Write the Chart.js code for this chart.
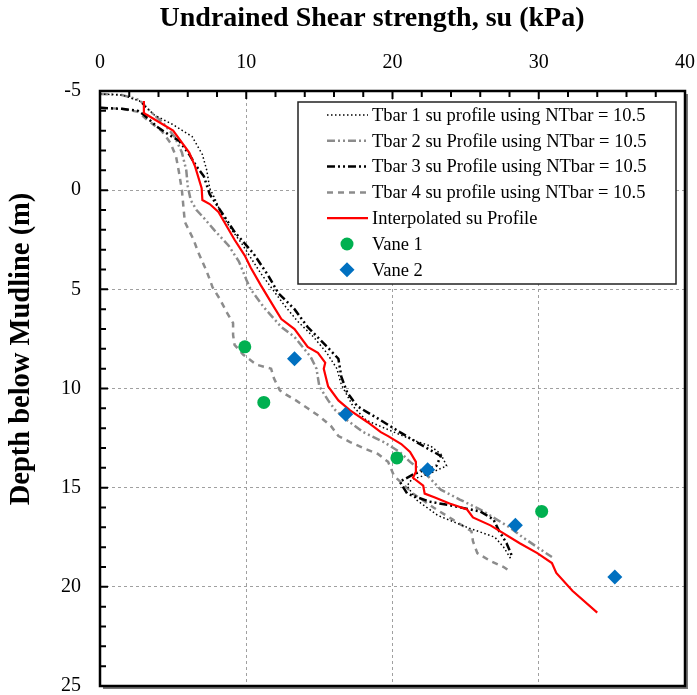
<!DOCTYPE html>
<html>
<head>
<meta charset="utf-8">
<script src="https://cdn.jsdelivr.net/npm/chart.js@4.4.1/dist/chart.umd.min.js"></script>
<style>
  html, body { margin: 0; padding: 0; background: #fff; }
  #wrap { width: 697px; height: 695px; }
</style>
</head>
<body>
<div id="wrap"><canvas id="suChart" width="697" height="695"></canvas></div>
<script>
// ---- data (su in kPa, depth in m) ----
const xTicks = [0, 10, 20, 30, 40];
const yTicks = [-5, 0, 5, 10, 15, 20, 25];

const tbar1Su = [0, 1.5, 2.7, 3.7, 5.0, 6.3, 7.0, 7.3, 7.5, 7.9, 8.3, 9.0, 9.7, 10.3, 11.0, 11.8, 12.6, 13.5, 14.6, 15.5, 16.2, 16.5, 17.3, 18.2, 20.1, 21.4, 22.6, 23.3, 23.7, 22.5, 21.3, 21.0, 21.6, 23.1, 25.1, 27.0, 27.6, 28.1];
const tbar1Depth = [-4.85, -4.8, -4.5, -3.8, -3.3, -2.7, -1.8, -1.0, -0.1, 0.5, 1.2, 2.0, 2.7, 3.4, 4.2, 5.0, 5.8, 6.6, 7.4, 8.2, 9.0, 9.8, 10.9, 11.6, 12.2, 12.6, 12.9, 13.3, 13.9, 14.3, 14.6, 14.9, 15.6, 16.4, 17.0, 17.5, 18.0, 18.6];

const tbar2Su = [0, 1.5, 2.7, 3.4, 4.3, 5.1, 5.6, 5.9, 6.0, 6.2, 6.6, 7.1, 7.8, 8.8, 9.5, 10.0, 10.3, 11.2, 12.4, 13.3, 14.4, 14.8, 15.0, 15.6, 16.1, 16.9, 18.0, 19.4, 20.5, 21.2, 22.4, 23.3, 24.6, 26.0, 28.0, 28.9, 29.9, 30.9];
const tbar2Depth = [-4.85, -4.8, -4.55, -4.0, -3.4, -2.7, -1.9, -1.0, -0.2, 0.5, 1.0, 1.4, 2.0, 2.8, 3.6, 4.5, 5.0, 5.9, 6.9, 7.4, 8.4, 9.0, 9.9, 10.6, 11.1, 11.6, 12.2, 12.7, 13.2, 13.7, 14.4, 15.1, 15.6, 16.1, 17.0, 17.5, 18.0, 18.5];

const tbar3Su = [0, 1.5, 2.6, 3.0, 3.9, 4.7, 5.4, 6.1, 6.6, 7.1, 7.5, 8.3, 9.2, 10.5, 11.5, 12.2, 13.3, 14.2, 15.4, 16.3, 16.5, 16.9, 17.6, 19.2, 20.5, 22.1, 23.3, 23.0, 21.5, 20.5, 21.0, 22.5, 24.0, 26.0, 26.9, 27.3, 27.8, 28.2];
const tbar3Depth = [-4.15, -4.1, -4.0, -3.8, -3.2, -2.8, -2.5, -1.8, -1.2, -0.7, 0.2, 1.1, 2.1, 3.2, 4.3, 5.2, 6.0, 6.9, 7.8, 8.5, 9.4, 10.2, 10.9, 11.6, 12.2, 12.9, 13.4, 13.9, 14.3, 14.7, 15.3, 15.7, 15.9, 16.2, 16.6, 17.2, 17.8, 18.5];

const tbar4Su = [0, 1.5, 2.6, 3.3, 4.2, 4.8, 5.2, 5.4, 5.6, 5.7, 5.8, 6.4, 6.7, 7.3, 7.7, 8.2, 8.7, 9.1, 9.1, 9.2, 9.8, 10.7, 11.7, 11.9, 12.3, 12.7, 13.4, 14.2, 15.0, 15.8, 16.3, 17.1, 18.0, 19.0, 19.7, 20.1, 21.4, 22.8, 24.1, 25.4, 25.5, 25.8, 26.7, 27.6, 28.0];
const tbar4Depth = [-4.15, -4.1, -3.95, -3.5, -3.0, -2.4, -1.7, -0.9, 0.0, 0.8, 1.6, 2.5, 3.1, 4.1, 4.9, 5.5, 6.2, 6.7, 7.3, 7.8, 8.3, 8.8, 9.0, 9.5, 10.1, 10.3, 10.6, 11.0, 11.4, 11.9, 12.4, 12.7, 13.0, 13.3, 13.7, 14.4, 15.3, 16.0, 16.6, 17.2, 17.7, 18.3, 18.7, 19.0, 19.2];

const interpSu = [3.0, 3.0, 3.2, 5.0, 6.1, 6.5, 6.95, 7.0, 7.5, 8.1, 9.2, 9.9, 10.3, 11.0, 11.9, 12.4, 13.3, 14.2, 14.9, 15.4, 15.3, 15.6, 16.3, 17.1, 18.3, 19.2, 19.7, 20.6, 21.2, 21.6, 21.6, 21.4, 22.1, 22.2, 22.9, 23.9, 25.1, 25.5, 26.7, 28.7, 29.9, 30.9, 31.2, 32.3, 34.0];
const interpDepth = [-4.5, -3.9, -3.8, -3.0, -1.9, -1.2, -0.1, 0.5, 0.7, 1.1, 2.5, 3.3, 3.9, 4.8, 5.9, 6.5, 7.0, 7.9, 8.2, 8.7, 9.0, 9.9, 10.6, 11.1, 11.7, 12.2, 12.4, 12.8, 13.2, 13.7, 14.2, 14.5, 14.9, 15.3, 15.5, 15.8, 16.1, 16.5, 16.9, 17.8, 18.3, 18.8, 19.3, 20.2, 21.3];

const vane1Su = [9.9, 11.2, 20.3, 30.2];
const vane1Depth = [7.9, 10.7, 13.5, 16.2];

const vane2Su = [13.3, 16.8, 22.4, 28.4, 35.2];
const vane2Depth = [8.5, 11.3, 14.1, 16.9, 19.5];

function pts(xs, ys) {
  return xs.map((v, i) => ({ x: v, y: ys[i] }));
}

const serif = "'Liberation Serif', 'Times New Roman', serif";
const grey = '#8c8c8c';
const dashDotDot = [8, 3, 2, 3, 2, 3];

// inward tick marks on left and top edges, plus the frame
const tickMarks = {
  id: 'tickMarks',
  afterDraw(chart) {
    const { ctx, chartArea: a, scales } = chart;
    ctx.save();
    ctx.strokeStyle = '#000';
    ctx.lineWidth = 2;
    ctx.beginPath();
    for (let v = 0; v <= 40; v += 2) {
      const px = scales.x.getPixelForValue(v);
      const len = v % 10 === 0 ? 8 : 6;
      ctx.moveTo(px, a.top);
      ctx.lineTo(px, a.top + len);
    }
    for (let d = -5; d <= 25; d += 1) {
      const py = scales.y.getPixelForValue(d);
      const len = d % 5 === 0 ? 8 : 6;
      ctx.moveTo(a.left, py);
      ctx.lineTo(a.left + len, py);
    }
    ctx.stroke();
    ctx.strokeStyle = '#777';
    ctx.lineWidth = 2;
    ctx.beginPath();
    ctx.moveTo(a.right + 2, a.top + 3);
    ctx.lineTo(a.right + 2, a.bottom + 2);
    ctx.lineTo(a.left + 3, a.bottom + 2);
    ctx.stroke();
    ctx.strokeStyle = '#000';
    ctx.lineWidth = 2.5;
    ctx.strokeRect(a.left, a.top, a.right - a.left, a.bottom - a.top);
    ctx.restore();
  }
};

// axis titles
const axisTitles = {
  id: 'axisTitles',
  afterDraw(chart) {
    const { ctx } = chart;
    ctx.save();
    ctx.fillStyle = '#000';
    ctx.textAlign = 'center';
    ctx.textBaseline = 'middle';
    ctx.font = 'bold 28px ' + serif;
    ctx.fillText('Undrained Shear strength, su (kPa)', 372, 19);
    ctx.translate(22, 349);
    ctx.rotate(-Math.PI / 2);
    ctx.font = 'bold 28.5px ' + serif;
    ctx.fillText('Depth below Mudline (m)', 0, 0);
    ctx.restore();
  }
};

// boxed legend inside the plot area
const boxLegend = {
  id: 'boxLegend',
  afterDraw(chart) {
    const { ctx, chartArea: a } = chart;
    const bw = 378, bh = 182;
    const bx = a.right - 9 - bw, by = a.top + 11;
    ctx.save();
    ctx.fillStyle = '#fff';
    ctx.fillRect(bx, by, bw, bh);
    ctx.strokeStyle = '#222';
    ctx.lineWidth = 1.5;
    ctx.strokeRect(bx, by, bw, bh);
    ctx.font = '18.5px ' + serif;
    ctx.textBaseline = 'middle';
    chart.data.datasets.forEach((ds, i) => {
      const y = by + 13 + i * 25.8;
      if (ds.showLine) {
        ctx.save();
        ctx.strokeStyle = ds.borderColor;
        ctx.lineWidth = ds.borderWidth;
        ctx.setLineDash(ds.borderDash || []);
        ctx.beginPath();
        ctx.moveTo(bx + 29, y);
        ctx.lineTo(bx + 70, y);
        ctx.stroke();
        ctx.restore();
      } else {
        ctx.fillStyle = ds.backgroundColor;
        ctx.strokeStyle = ds.borderColor;
        Chart.helpers.drawPoint(ctx, { pointStyle: ds.pointStyle, radius: ds.pointRadius, rotation: 0, borderWidth: 0 }, bx + 49, y);
      }
      ctx.fillStyle = '#000';
      ctx.fillText(ds.label, bx + 74, y + 1);
    });
    ctx.restore();
  }
};

const lineDs = (label, xs, ys, color, width, dash, order) => ({
  label, data: pts(xs, ys), showLine: true, borderColor: color, borderWidth: width,
  borderDash: dash, pointRadius: 0, fill: false, tension: 0, order
});

const ctx = document.getElementById('suChart');
new Chart(ctx, {
  type: 'scatter',
  data: {
    datasets: [
      lineDs('Tbar 1 su profile using NTbar = 10.5', tbar1Su, tbar1Depth, '#000', 1.5, [1.5, 2.5], 3),
      lineDs('Tbar 2 su Profile using NTbar = 10.5', tbar2Su, tbar2Depth, grey, 2.5, dashDotDot, 4),
      lineDs('Tbar 3 su Profile using NTbar = 10.5', tbar3Su, tbar3Depth, '#000', 2.5, dashDotDot, 2),
      lineDs('Tbar 4 su profile using NTbar = 10.5', tbar4Su, tbar4Depth, grey, 2.5, [6, 5], 5),
      lineDs('Interpolated su Profile', interpSu, interpDepth, '#ff0000', 2.2, [], 1),
      { label: 'Vane 1', data: pts(vane1Su, vane1Depth), showLine: false, pointStyle: 'circle',
        pointRadius: 6.5, backgroundColor: '#00b050', borderColor: '#00b050', borderWidth: 0, order: 0 },
      { label: 'Vane 2', data: pts(vane2Su, vane2Depth), showLine: false, pointStyle: 'rectRot',
        pointRadius: 7.5, backgroundColor: '#0070c0', borderColor: '#0070c0', borderWidth: 0, order: 0 }
    ]
  },
  options: {
    responsive: false,
    animation: false,
    devicePixelRatio: 1,
    layout: { padding: { left: 0, top: 0, right: 12, bottom: 9 } },
    plugins: { legend: { display: false }, tooltip: { enabled: false } },
    scales: {
      x: {
        type: 'linear', position: 'top', min: 0, max: 40,
        afterBuildTicks(scale) { scale.ticks = xTicks.map(v => ({ value: v })); },
        afterFit(scale) { scale.height = 91; scale.paddingLeft = 0; scale.paddingRight = 0; },
        grid: { color: '#a0a0a0', lineWidth: 1, drawTicks: false },
        border: { display: false, dash: [3, 3] },
        ticks: { color: '#000', font: { family: serif, size: 20 }, padding: 16 }
      },
      y: {
        type: 'linear', reverse: true, min: -5, max: 25,
        afterBuildTicks(scale) { scale.ticks = yTicks.map(v => ({ value: v })); },
        afterFit(scale) { scale.width = 100; scale.paddingTop = 0; scale.paddingBottom = 0; },
        grid: { color: '#a0a0a0', lineWidth: 1, drawTicks: false },
        border: { display: false, dash: [3, 3] },
        ticks: { color: '#000', font: { family: serif, size: 20 }, padding: 19 }
      }
    }
  },
  plugins: [tickMarks, axisTitles, boxLegend]
});
</script>
</body>
</html>
